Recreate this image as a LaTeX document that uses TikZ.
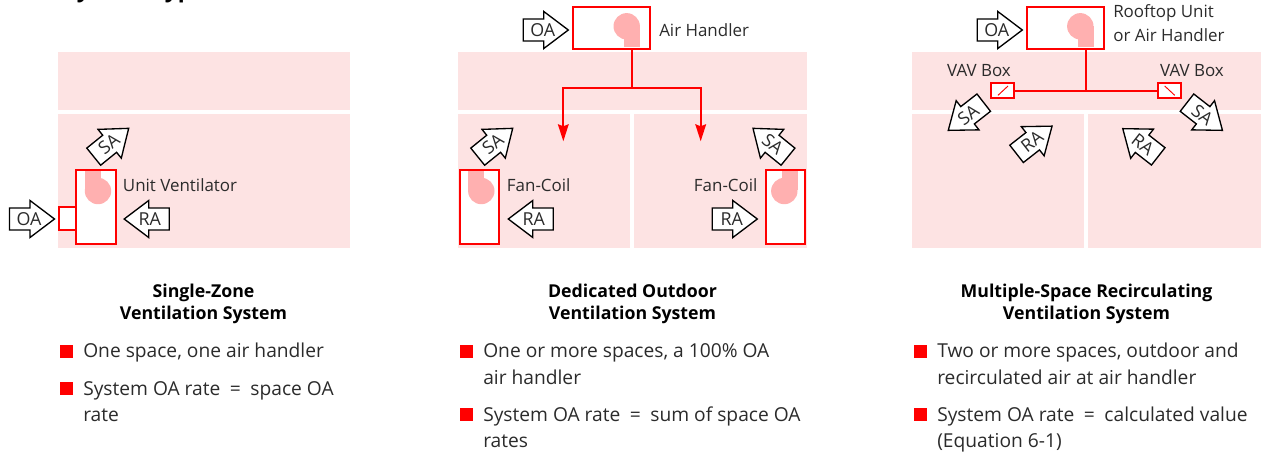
\documentclass[tikz,border=0pt]{standalone}
\usepackage{fontspec}
\setmainfont{Open Sans}
\usetikzlibrary{arrows.meta}
\definecolor{spacebg}{HTML}{FDE3E3}
\definecolor{fanpink}{HTML}{FFB0B0}
\definecolor{inktext}{HTML}{2B2B2B}
\newcommand{\wideeq}{\ \hspace{3.4pt}=\hspace{3.4pt}\ }
\tikzset{
  unitbox/.style={draw=red,fill=white,line width=1.6pt,inner sep=0pt,outer sep=0pt},
  vavbox/.style={draw=red,fill=white,line width=1.4pt,inner sep=0pt,outer sep=0pt},
  duct/.style={draw=red,line width=1.5pt},
  flowshape/.style={draw=black,fill=white,line width=1pt,miter limit=10},
  flowlabel/.style={font=\fontsize{13.4}{15}\selectfont,text=inktext,inner sep=0pt},
  tag/.style={font=\fontsize{12.7}{15}\selectfont,text=inktext,inner sep=0pt},
  head/.style={font=\fontsize{13.3}{16.5}\selectfont\bfseries,text=black,inner sep=0pt,align=center},
  body/.style={font=\fontsize{14.4}{15}\selectfont,text=inktext,inner sep=0pt,anchor=base west},
  bulletmark/.style={fill=red,draw=none,inner sep=0pt,outer sep=0pt,minimum width=9.75pt,minimum height=9.75pt},
}
\newcommand{\flowarrow}[6]{%
  \begin{scope}[shift={(#2,#3)},rotate=#4]
    \draw[flowshape] (-22.5,-11) -- (-2,-11) -- (-2,-18.5) -- (22.5,0) -- (-2,18.5) -- (-2,11) -- (-22.5,11) -- cycle;
    \node[flowlabel,rotate=#5] (#1) at (-3,0) {#6};
  \end{scope}}
\newcommand{\equipbox}[6][unitbox]{%
  \node[#1,minimum width={(#5-#3)*0.75pt},minimum height={(#6-#4)*0.75pt}] (#2) at ({(#3+#5)/2},{(#4+#6)/2}) {};}
\newcommand{\fanshape}[6]{% circle cx cy, duct x1 y1 x2 y2
  \fill[fanpink] (#1,#2) circle[radius=13.2];
  \fill[fanpink] (#3,#4) rectangle (#5,#6);}
\begin{document}
\begin{tikzpicture}[x=0.75pt,y=-0.75pt]
\useasboundingbox (0,0) rectangle (1263,454);
% title (cut by the top edge)
\node[font=\fontsize{17}{20}\selectfont\bfseries,inner sep=0pt,anchor=base west] (title) at (64,-2.5) {System Types};
% spaces
\fill[spacebg] (58,52) rectangle (350,109.7);
\fill[spacebg] (58,114) rectangle (350,247.7);
\fill[spacebg] (458,52) rectangle (807,109.7);
\fill[spacebg] (458,114) rectangle (630,247.7);
\fill[spacebg] (634,114) rectangle (807,247.7);
\fill[spacebg] (912,52) rectangle (1261,109.7);
\fill[spacebg] (912,114) rectangle (1084,247.7);
\fill[spacebg] (1088,114) rectangle (1261,247.7);
% panel 1
\equipbox{oabox}{59}{207}{76}{230}
\equipbox{uv}{76}{170}{116}{244}
\fanshape{98}{191}{85}{171}{101}{190}
\flowarrow{oa1}{32}{219}{0}{0}{OA}
\flowarrow{ra1}{146.7}{219}{180}{0}{RA}
\flowarrow{sa1}{111.2}{142.5}{39}{39}{SA}
\node[tag,anchor=west] (uvt) at (122.7,185) {Unit Ventilator};
% panel 2
\equipbox{ah}{572.7}{6.7}{650}{49}
\fanshape{626.7}{26.3}{624.3}{26.3}{640}{46.7}
\flowarrow{oa2}{545.8}{30}{0}{0}{OA}
\node[tag,anchor=west] (aht) at (659,30) {Air Handler};
\coordinate (j2) at (632,88);
\coordinate (tipL) at (563.3,141.3);
\coordinate (tipR) at (700.7,141.3);
\draw[duct] (ah.south -| j2) -- (j2);
\draw[duct,-{Stealth[length=12.75pt,width=8pt,inset=1.5pt]}] (j2) -| (tipL);
\draw[duct,-{Stealth[length=12.75pt,width=8pt,inset=1.5pt]}] (j2) -| (tipR);
\equipbox{fc1}{460}{170}{499}{244}
\fanshape{481.3}{191}{468}{171}{484}{190}
\flowarrow{sa2}{495.2}{142.5}{39}{39}{SA}
\flowarrow{ra2}{530.8}{219}{180}{0}{RA}
\node[tag,anchor=west] (fct1) at (506.7,185) {Fan-Coil};
\equipbox{fc2}{766}{170}{805}{244}
\fanshape{784.3}{191}{782.3}{171}{797.5}{190}
\flowarrow{sa3}{770.5}{142.5}{141}{-39}{SA}
\flowarrow{ra3}{734.8}{219}{0}{0}{RA}
\node[tag,anchor=east] (fct2) at (757.7,185) {Fan-Coil};
% panel 3
\equipbox{rt}{1027}{6.7}{1104.3}{49}
\fanshape{1080.3}{26.3}{1078}{26.3}{1093.5}{46.7}
\flowarrow{oa3}{999.8}{30}{0}{0}{OA}
\node[tag,anchor=west] (rtt1) at (1113,13) {Rooftop Unit};
\node[tag,anchor=west] (rtt2) at (1113,34.7) {or Air Handler};
\equipbox[vavbox]{vavL}{991}{82.7}{1014}{98.3}
\equipbox[vavbox]{vavR}{1158}{82.7}{1181.3}{98.3}
\coordinate (j3) at (1086,90.5);
\draw[duct] (rt.south -| j3) -- (j3);
\draw[duct] (vavL.east) -- (vavR.west);
\draw[red,line width=0.7pt] (998,95.3) -- (1008,86);
\draw[red,line width=0.7pt] (1164.7,86) -- (1174.7,95.3);
\node[tag] (vt1) at (979,71) {VAV Box};
\node[tag] (vt2) at (1192,71) {VAV Box};
\flowarrow{sa4}{966}{116.5}{218}{38}{SA}
\flowarrow{ra4}{1034.3}{140}{38}{38}{RA}
\flowarrow{sa5}{1204.7}{116.5}{-38}{-38}{SA}
\flowarrow{ra5}{1140.5}{142.5}{142}{-38}{RA}
% headings
\node[head] (h1) at (203.5,303.5) {Single-Zone\\Ventilation System};
\node[head] (h2) at (632.5,303.5) {Dedicated Outdoor\\Ventilation System};
\node[head] (h3) at (1086.5,303.5) {Multiple-Space Recirculating\\Ventilation System};
% lists
\node[bulletmark] (b11) at (66.5,351.3) {};
\node[body] (t11) at (83,357.7) {One space, one air handler};
\node[bulletmark] (b12) at (66.5,388.5) {};
\node[body] (t12) at (83,395) {System OA rate\wideeq{}space OA};
\node[body] (t12b) at (83,421.5) {rate};
\node[bulletmark] (b21) at (466.5,351.3) {};
\node[body] (t21) at (483,357.7) {One or more spaces, a 100\% OA};
\node[body] (t21b) at (483,384) {air handler};
\node[bulletmark] (b22) at (466.5,414.5) {};
\node[body] (t22) at (483,421) {System OA rate\wideeq{}sum of space OA};
\node[body] (t22b) at (483,447.3) {rates};
\node[bulletmark] (b31) at (920.5,351.3) {};
\node[body] (t31) at (937,357.7) {Two or more spaces, outdoor and};
\node[body] (t31b) at (937,384) {recirculated air at air handler};
\node[bulletmark] (b32) at (920.5,414.5) {};
\node[body] (t32) at (937,421) {System OA rate\wideeq{}calculated value};
\node[body] (t32b) at (937,447.3) {(Equation 6-1)};
\end{tikzpicture}
\end{document}
